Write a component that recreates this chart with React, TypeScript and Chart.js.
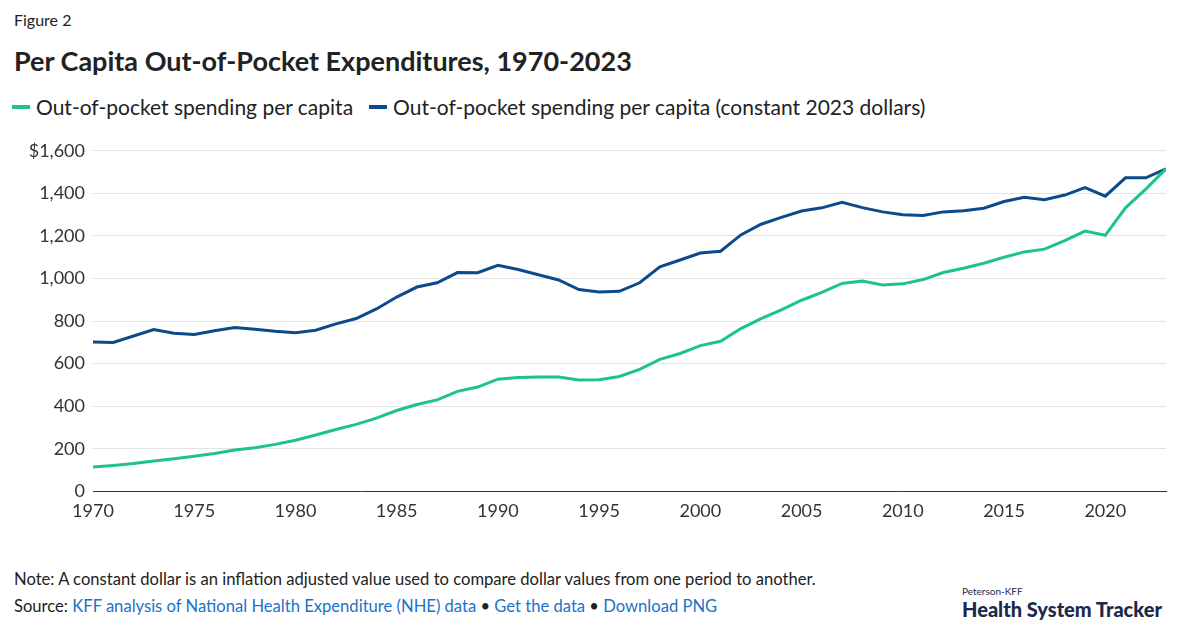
import React, { useEffect, useRef } from "react";
import { Chart, registerables } from "chart.js";
Chart.register(...registerables);

const years = Array.from({ length: 54 }, (_, i) => 1970 + i);
const nominal = [115,122,131,143,153,165,178,194,205,221,240,265,291,315,344,380,408,430,470,490,527,535,537,537,523,525,540,573,620,648,685,705,765,812,853,898,935,977,988,970,975,995,1028,1048,1072,1100,1125,1138,1178,1223,1203,1332,1420,1515];
const constant = [702,700,730,760,743,737,755,770,762,752,745,757,787,812,857,913,960,980,1028,1027,1062,1042,1018,993,948,937,940,980,1055,1087,1120,1128,1205,1255,1287,1317,1332,1358,1333,1313,1300,1296,1313,1318,1330,1362,1382,1370,1392,1427,1387,1473,1473,1515];
const seriesNames = ["Out-of-pocket spending per capita", "Out-of-pocket spending per capita (constant 2023 dollars)"];
const colors = ["#1cc48a", "#0b4a8b"];

const F = "Lato, 'Open Sans', sans-serif";

export default function App() {
  const ref = useRef<HTMLCanvasElement>(null);
  useEffect(() => {
    document.body.style.margin = "0";
    const chart = new Chart(ref.current!, {
      type: "line",
      data: {
        datasets: [
          { label: seriesNames[0], data: years.map((y, i) => ({ x: y, y: nominal[i] })), borderColor: colors[0], borderWidth: 3, pointRadius: 0, tension: 0 },
          { label: seriesNames[1], data: years.map((y, i) => ({ x: y, y: constant[i] })), borderColor: colors[1], borderWidth: 3, pointRadius: 0, tension: 0 },
        ],
      },
      options: {
        animation: false,
        responsive: false,
        layout: { padding: { left: 0, right: 10, top: 5 } },
        plugins: { legend: { display: false }, tooltip: { enabled: false } },
        scales: {
          x: {
            type: "linear", min: 1970, max: 2023,
            ticks: { stepSize: 5, color: "#333", font: { family: F, size: 18 }, callback: (v: any) => String(v), autoSkip: false },
            afterBuildTicks: (ax: any) => { ax.ticks = [1970,1975,1980,1985,1990,1995,2000,2005,2010,2015,2020].map(v => ({ value: v })); },
            grid: { display: false, drawTicks: true, tickLength: 6 },
            border: { color: "#333", width: 1 },
          },
          y: {
            min: 0, max: 1600,
            ticks: { stepSize: 200, color: "#333", font: { family: F, size: 18 }, padding: 8,
              callback: (v: any) => v === 1600 ? "$1,600" : Number(v).toLocaleString("en-US") },
            grid: { color: "#e3e3e3", drawTicks: false },
            border: { display: false },
            afterFit: (ax: any) => { ax.width = 93; },
          },
        },
      },
    });
    return () => chart.destroy();
  }, []);
  return (
    <div style={{ position: "relative", width: 1182, height: 635, fontFamily: F, color: "#222", background: "#fff" }}>
      <div style={{ position: "absolute", left: 14, top: 10, fontSize: 16 }}>Figure 2</div>
      <div style={{ position: "absolute", left: 14, top: 44, fontSize: 27, fontWeight: 700 }}>Per Capita Out-of-Pocket Expenditures, 1970-2023</div>
      <div style={{ position: "absolute", left: 12, top: 94, fontSize: 21, display: "flex", gap: 16 }}>
        {seriesNames.map((n, i) => (
          <span key={i} style={{ display: "flex", alignItems: "center" }}>
            <span style={{ width: 18, height: 4, background: colors[i], marginRight: 6, display: "inline-block" }} />{n}
          </span>
        ))}
      </div>
      <canvas ref={ref} width={1176} height={393} style={{ position: "absolute", left: 0, top: 132 }} />
      <div style={{ position: "absolute", left: 14, top: 569, fontSize: 16.6 }}>Note: A constant dollar is an inflation adjusted value used to compare dollar values from one period to another.</div>
      <div style={{ position: "absolute", left: 14, top: 596, fontSize: 16.6 }}>
        Source: <span style={{ color: "#1a73c8" }}>KFF analysis of National Health Expenditure (NHE) data</span> • <span style={{ color: "#1a73c8" }}>Get the data</span> • <span style={{ color: "#1a73c8" }}>Download PNG</span>
      </div>
      <div style={{ position: "absolute", left: 962, top: 585, fontSize: 10, color: "#1b2a4a" }}>Peterson-KFF</div>
      <div style={{ position: "absolute", left: 962, top: 597, fontSize: 20, fontWeight: 900, color: "#1b2a4a" }}>Health System Tracker</div>
    </div>
  );
}
